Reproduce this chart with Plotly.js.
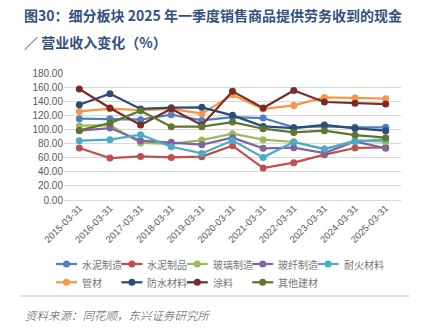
<!DOCTYPE html>
<html>
<head>
<meta charset="utf-8">
<script src="https://cdn.plot.ly/plotly-3.0.1.min.js"></script>
<style>html,body{margin:0;padding:0;background:#fff;}#chart{width:427px;height:331px;}</style>
</head>
<body>
<div id="chart"></div>
<script>
const categories = ['2015-03-31','2016-03-31','2017-03-31','2018-03-31','2019-03-31','2020-03-31','2021-03-31','2022-03-31','2023-03-31','2024-03-31','2025-03-31'];
const seriesNames = ['水泥制造','水泥制品','玻璃制造','玻纤制造','耐火材料','管材','防水材料','涂料','其他建材'];
const seriesColors = ['#4F81BD','#C0504D','#9BBB59','#8064A2','#4BACC6','#F79646','#2C4D75','#772C2A','#5F7530'];
const cementMfg   = [115.2, 115.0, 113.8, 120.9, 112.8, 117.6, 116.2, 102.9, 104.3, 103.0, 103.0];
const cementProd  = [73.7, 59.5, 61.8, 60.4, 61.4, 77.0, 45.3, 52.9, 64.2, 73.7, 74.6];
const glassMfg    = [105.3, 106.0, 80.8, 79.4, 85.0, 94.0, 85.5, 82.2, 72.3, 84.0, 82.6];
const fiberglass  = [98.2, 102.0, 84.0, 81.7, 78.4, 88.3, 73.2, 74.1, 66.6, 83.0, 73.2];
const refractory  = [84.0, 85.5, 92.5, 75.5, 66.0, 84.5, 60.4, 82.2, 72.3, 83.0, 86.0];
const pipes       = [125.6, 129.4, 127.5, 129.0, 122.3, 149.2, 129.0, 134.0, 145.4, 144.6, 143.6];
const waterproof  = [135.0, 150.6, 129.0, 130.8, 131.3, 120.0, 104.3, 102.0, 106.3, 101.5, 98.2];
const coatings    = [157.3, 130.4, 106.3, 129.4, 106.0, 154.0, 130.4, 155.3, 138.9, 137.0, 136.0];
const otherMat    = [98.6, 109.0, 126.5, 103.9, 103.9, 110.5, 101.0, 95.8, 98.2, 92.0, 88.3];
const seriesValues = [cementMfg, cementProd, glassMfg, fiberglass, refractory, pipes, waterproof, coatings, otherMat];
const yTickVals = [0,20,40,60,80,100,120,140,160,180];
const yTickText = yTickVals.map(v => v.toFixed(2));

const W = 427, H = 331;
const M = {l: 64, r: 26, t: 73, b: 131};
const PW = W - M.l - M.r, PH = H - M.t - M.b;
const px = x => (x - M.l) / PW;
const py = y => 1 - (y - M.t) / PH;

const traces = seriesNames.map((name, i) => ({
  type: 'scatter', mode: 'lines+markers', name: name,
  x: categories, y: seriesValues[i],
  line: {color: seriesColors[i], width: 2.25},
  marker: {color: seriesColors[i], size: 7, symbol: 'circle'},
  showlegend: false, hoverinfo: 'skip'
}));

const shapes = [];
const annotations = [];

// custom legend
const legendRows = [[0,1,2,3,4],[5,6,7,8]];
const legendRowY = [264, 282.3];
legendRows.forEach((row, r) => {
  row.forEach((idx, k) => {
    const x0 = 56 + k * 65.4;
    shapes.push({type: 'line', xref: 'paper', yref: 'paper', x0: px(x0), x1: px(x0 + 21), y0: py(legendRowY[r]), y1: py(legendRowY[r]), line: {color: seriesColors[idx], width: 2.25}});
    shapes.push({type: 'circle', xref: 'paper', yref: 'paper', xsizemode: 'pixel', ysizemode: 'pixel', xanchor: px(x0 + 10.5), yanchor: py(legendRowY[r]), x0: -3.5, x1: 3.5, y0: -3.5, y1: 3.5, fillcolor: seriesColors[idx], line: {color: seriesColors[idx], width: 0}});
    annotations.push({xref: 'paper', yref: 'paper', x: px(x0 + 24), y: py(legendRowY[r]), xanchor: 'left', yanchor: 'middle', showarrow: false, text: seriesNames[idx], font: {family: 'Noto Sans CJK SC', size: 10, color: '#767676'}});
  });
});

// separator line
shapes.push({type: 'line', xref: 'paper', yref: 'paper', x0: px(21), x1: px(409), y0: py(296), y1: py(296), line: {color: '#BFBFBF', width: 1}});

// titles
annotations.push({xref: 'paper', yref: 'paper', x: px(22), y: py(15), xanchor: 'left', yanchor: 'middle', showarrow: false, text: '<b>图30：细分板块 2025 年一季度销售商品提供劳务收到的现金</b>', font: {family: 'Noto Sans CJK SC', size: 14, color: '#34507F'}});
annotations.push({xref: 'paper', yref: 'paper', x: px(22), y: py(41.5), xanchor: 'left', yanchor: 'middle', showarrow: false, text: '<b>／ 营业收入变化（%）</b>', font: {family: 'Noto Sans CJK SC', size: 14, color: '#34507F'}});
// source
annotations.push({xref: 'paper', yref: 'paper', x: px(23), y: py(315), xanchor: 'left', yanchor: 'middle', showarrow: false, text: '<i>资料来源：同花顺，东兴证券研究所</i>', font: {family: 'Noto Sans CJK SC', size: 11.5, color: '#555555', weight: 300}});

const layout = {
  width: W, height: H,
  margin: M,
  paper_bgcolor: '#ffffff', plot_bgcolor: '#ffffff',
  showlegend: false,
  font: {family: 'Liberation Sans, Arial, sans-serif', color: '#595959'},
  xaxis: {
    type: 'category', range: [-0.5, 10.5], showgrid: false, zeroline: false, showline: false,
    tickangle: -45, ticks: '', tickfont: {size: 9.5, color: '#595959'}, fixedrange: true
  },
  yaxis: {
    range: [0, 180], tickvals: yTickVals, ticktext: yTickText, showgrid: true, gridcolor: '#D9D9D9', gridwidth: 1,
    zeroline: true, zerolinecolor: '#D9D9D9', zerolinewidth: 1, showline: false, ticks: '',
    tickfont: {size: 10, color: '#595959'}, fixedrange: true
  },
  shapes: shapes,
  annotations: annotations
};

Plotly.newPlot('chart', traces, layout, {displayModeBar: false, staticPlot: true});
</script>
</body>
</html>
